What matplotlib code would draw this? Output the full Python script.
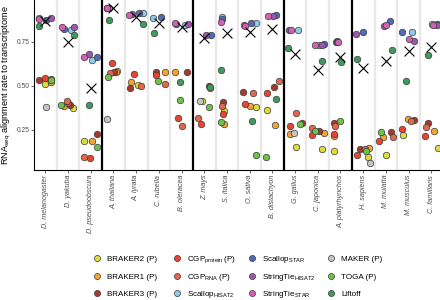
import numpy as np
import matplotlib.pyplot as plt
from matplotlib.lines import Line2D

plt.rcParams['font.family'] = ['Liberation Sans', 'DejaVu Sans']
plt.rcParams['mathtext.default'] = 'regular'

nan = np.nan

# species in plotting order, with clade sizes for the thick separators
species = ['D. melanogaster', 'D. yakuba', 'D. pseudoobscura',
           'A. thaliana', 'A. lyrata', 'C. rubella', 'B. oleracea',
           'Z. mays', 'S. italica', 'O. sativa', 'B. distachyon',
           'G. gallus', 'C. japonica', 'A. platyrhynchos',
           'H. sapiens', 'M. mulatta', 'M. musculus', 'C. familiaris']
group_sizes = [3, 4, 4, 3, 4]

# alignment rate per method, one value per species
braker2 = [0.51, 0.375, 0.187, 0.585, 0.505, nan, nan, 0.41, 0.356, 0.377, 0.36,
           0.153, 0.142, 0.131, 0.097, 0.108, 0.222, 0.148]
braker1 = [0.52, 0.385, 0.187, 0.575, 0.523, 0.576, 0.58, 0.487, 0.282, 0.384, 0.278,
           0.225, 0.231, 0.212, 0.144, 0.206, 0.31, 0.244]
braker3 = [0.53, 0.39, 0.226, 0.578, 0.487, 0.576, 0.575, 0.50, 0.405, 0.464, 0.492,
           0.287, 0.244, 0.29, 0.14, 0.235, 0.307, 0.29]
cgp_protein = [0.545, 0.40, 0.089, 0.627, 0.566, 0.563, 0.314, 0.283, 0.337, 0.395, 0.457,
               0.27, 0.218, 0.226, 0.108, 0.187, 0.252, 0.212]
cgp_rna = [0.54, 0.41, 0.097, 0.57, 0.50, 0.51, 0.273, 0.314, 0.385, 0.457, 0.527,
           0.345, 0.26, 0.269, 0.14, 0.21, 0.297, 0.263]
scallop_hisat2 = [0.885, 0.815, 0.646, 0.94, 0.91, 0.886, 0.845, nan, 0.892, 0.856, nan,
                  0.818, 0.733, 0.75, nan, nan, 0.807, 0.85]
scallop_star = [0.875, 0.82, 0.66, 0.941, 0.913, 0.888, 0.848, 0.79, 0.881, 0.854, 0.902,
                0.818, 0.737, 0.752, 0.803, 0.865, 0.803, 0.852]
stringtie_hisat2 = [0.885, 0.83, 0.68, 0.94, 0.905, nan, 0.85, 0.785, nan, 0.845, 0.893,
                    nan, 0.731, 0.75, 0.794, 0.837, 0.756, 0.845]
stringtie_star = [0.88, 0.83, 0.665, 0.94, 0.903, nan, 0.856, nan, 0.86, 0.84, 0.893,
                  0.818, 0.733, 0.75, nan, 0.843, 0.765, 0.845]
maker = [0.378, nan, nan, 0.311, nan, nan, nan, 0.415, nan, nan, nan,
         0.23, nan, nan, 0.063, nan, nan, nan]
toga = [0.53, 0.39, 0.153, 0.547, nan, 0.526, 0.42, 0.381, 0.295, 0.106, 0.094,
        0.28, 0.244, 0.297, 0.127, 0.239, nan, nan]
liftoff = [0.84, 0.79, 0.388, 0.875, 0.851, 0.797, 0.523, 0.49, 0.591, 0.299, 0.422,
           0.714, 0.64, 0.632, 0.65, 0.703, 0.525, 0.674]
transcriptome = [0.865, 0.75, 0.485, 0.94, 0.892, 0.854, 0.831, 0.769, 0.797, 0.807, 0.822,
                 0.68, 0.587, 0.665, 0.602, 0.638, 0.695, 0.72]

methods = [
    ('BRAKER2 (P)', braker2, '#dcdc3c'),
    ('BRAKER1 (P)', braker1, '#f2a531'),
    ('BRAKER3 (P)', braker3, '#a33a2c'),
    ('CGP$_{protein}$ (P)', cgp_protein, '#ea4330'),
    ('CGP$_{RNA}$ (P)', cgp_rna, '#e0684c'),
    ('Scallop$_{HISAT2}$', scallop_hisat2, '#8fcbec'),
    ('Scallop$_{STAR}$', scallop_star, '#4e6cb8'),
    ('StringTie$_{HISAT2}$', stringtie_hisat2, '#9b58ad'),
    ('StringTie$_{STAR}$', stringtie_star, '#d45fb4'),
    ('MAKER (P)', maker, '#c4c4c4'),
    ('TOGA (P)', toga, '#6cc24a'),
    ('Liftoff', liftoff, '#3f9a5e'),
]

W, H = 440, 300
fig = plt.figure(figsize=(W / 100, H / 100), dpi=100)
ax = fig.add_axes([34 / W, 1 - 170 / H, 408.6 / W, 170.7 / H])

xs = np.arange(len(species))

# separators: grey inside a clade, black between clades
bounds = np.cumsum(group_sizes)[:-1] - 0.5
for b in np.arange(len(species) - 1) + 0.5:
    if b in bounds:
        ax.axvline(b, color='black', lw=1.6, zorder=1)
    else:
        ax.axvline(b, color='#e8e8e8', lw=1.6, zorder=0)

# deterministic horizontal spread so dots do not sit on top of each other
for m, (label, vals, col) in enumerate(methods):
    jit = 0.3 * np.sin(2.1 * m + 1.3 * xs * (m + 1) + xs)
    ax.scatter(xs + jit, vals, s=22, color=col, edgecolors='#3a3a3a',
               linewidths=0.5, zorder=3)

ax.scatter(xs, transcriptome, marker='x', s=50, color='black', linewidths=0.8, zorder=4)

ax.set_xlim(-0.5, len(species) - 0.5)
ax.set_ylim(0.021, 0.99)
ax.set_yticks([0.25, 0.50, 0.75])
ax.set_yticklabels(['0.25', '0.50', '0.75'])
ax.set_xticks(xs)
ax.set_xticklabels(species, rotation=90, style='italic', ha='center', va='top')
ax.tick_params(axis='both', labelsize=5.2, colors='#4d4d4d', length=2, width=0.6, pad=1.5)
ax.tick_params(axis='y', labelsize=4.8)
for sp in ['top', 'right']:
    ax.spines[sp].set_visible(False)
for sp in ['left', 'bottom']:
    ax.spines[sp].set_linewidth(0.8)
ax.set_ylabel('RNA$_{seq}$ alignment rate to transcriptome', fontsize=6.6, labelpad=2)

# legend: 4 columns x 3 rows laid out on the figure
col_x = [97, 177, 252, 331]
row_y = [258, 276, 293]
for i, (label, vals, col) in enumerate(methods):
    cx, ry = col_x[i // 3], row_y[i % 3]
    fig.add_artist(Line2D([cx / W], [1 - ry / H], marker='o', ls='', markersize=4.4,
                          markerfacecolor=col, markeredgecolor='#3a3a3a',
                          markeredgewidth=0.5, transform=fig.transFigure))
    fig.text((cx + 10) / W, 1 - (ry + 2.8) / H, label, fontsize=5.8,
             ha='left', va='baseline')

fig.savefig('out.png', dpi=100)
